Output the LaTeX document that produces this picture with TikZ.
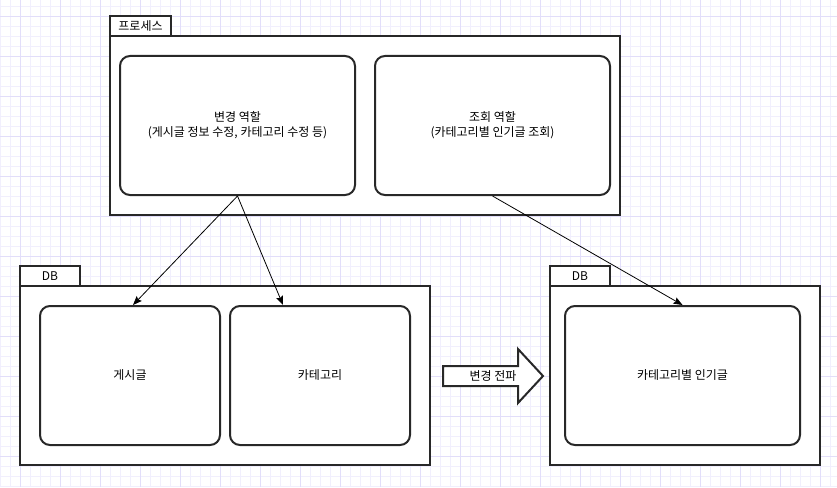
\documentclass[tikz,border=0pt]{standalone}
\usepackage{fontspec}
\setmainfont{Noto Sans CJK KR}
\usetikzlibrary{arrows.meta}
\definecolor{gridminor}{RGB}{241,239,253}
\definecolor{gridmajor}{RGB}{226,222,250}
\definecolor{strokec}{RGB}{40,40,40}
\tikzset{
  minorline/.style={gridminor, line width=0.8pt},
  majorline/.style={gridmajor, line width=0.9pt},
  frame/.style={draw=strokec, line width=2pt, fill=white, rectangle, inner sep=0pt},
  tabbox/.style={draw=strokec, line width=2pt, fill=white, rectangle, inner sep=0pt, font=\fontsize{12}{14}\selectfont},
  roundbox/.style={draw=strokec, line width=2pt, fill=white, rectangle, rounded corners=10pt, inner sep=2pt, align=center, font=\fontsize{12}{15}\selectfont},
  conn/.style={draw=black, line width=0.8pt, -{Stealth[inset=1.5pt,length=9pt,width=7pt]}},
  lbl/.style={inner sep=0pt, font=\fontsize{12}{14}\selectfont}
}
\begin{document}
\begin{tikzpicture}[x=1pt,y=-1pt]
\useasboundingbox (0,0) rectangle (837,487);
\fill[white] (0,0) rectangle (837,487);
% grid
\foreach \x in {0,10,...,830} \draw[minorline] (\x,0) -- (\x,487);
\foreach \y in {6,16,...,486} \draw[minorline] (0,\y) -- (837,\y);
\foreach \x in {20,60,...,820} \draw[majorline] (\x,0) -- (\x,487);
\foreach \y in {16,56,...,456} \draw[majorline] (0,\y) -- (837,\y);

% process container
\node[tabbox, minimum width=61pt, minimum height=20pt] (ptab) at (140.5,26) {프로세스};
\node[frame, minimum width=510pt, minimum height=179pt] (proc) at (365,125.5) {};
\node[roundbox, minimum width=235pt, minimum height=139pt] (b1) at (237.5,125.5) {변경 역할\\(게시글 정보 수정, 카테고리 수정 등)};
\node[roundbox, minimum width=235pt, minimum height=139pt] (b2) at (492.5,125.5) {조회 역할\\(카테고리별 인기글 조회)};

% left DB
\node[tabbox, minimum width=60pt, minimum height=20pt] (ltab) at (50,276) {DB};
\node[frame, minimum width=410pt, minimum height=179pt] (ldb) at (225,375.5) {};
\node[roundbox, minimum width=180pt, minimum height=139pt] (g) at (130,375.5) {게시글};
\node[roundbox, minimum width=180pt, minimum height=139pt] (c) at (320,375.5) {카테고리};

% right DB
\node[tabbox, minimum width=60pt, minimum height=20pt] (rtab) at (580,276) {DB};
\node[frame, minimum width=270pt, minimum height=179pt] (rdb) at (685,375.5) {};
\node[roundbox, minimum width=235pt, minimum height=139pt] (p) at (682.5,375.5) {카테고리별 인기글};

% block arrow
\draw[draw=strokec, line width=2pt, fill=white, line join=miter]
  (443,366) -- (518,366) -- (518,349) -- (543,376) -- (518,403) -- (518,386) -- (443,386) -- cycle;
\node[lbl] (prop) at (493,376) {변경 전파};

% connectors
\draw[conn] (b1.south) -- ([xshift=3pt]g.north);
\draw[conn] (b1.south) -- ([xshift=-37pt]c.north);
\draw[conn] (b2.south) -- (p.north);
\end{tikzpicture}
\end{document}
